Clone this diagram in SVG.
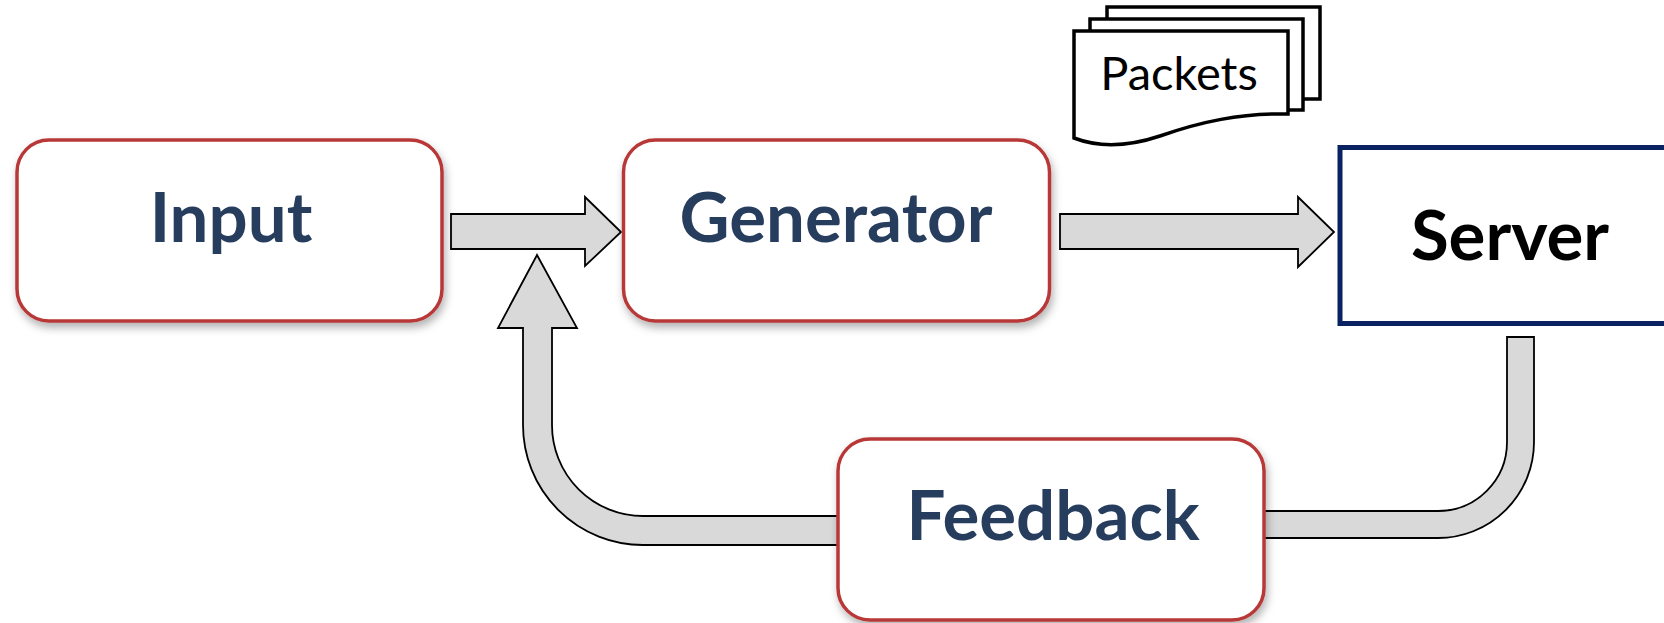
<svg xmlns="http://www.w3.org/2000/svg" width="1664" height="623" viewBox="0 0 1664 623">
  <defs>
    <filter id="shadow" x="-10%" y="-10%" width="125%" height="135%">
      <feDropShadow dx="2" dy="5" stdDeviation="4" flood-color="#000" flood-opacity="0.3"/>
    </filter>
    <style>
      .box { fill: #ffffff; stroke: #b83838; stroke-width: 3.5; filter: url(#shadow); }
      .label { font-family: Lato, "Liberation Sans", sans-serif; font-weight: 700; font-size: 69px; fill: #263d5e; text-anchor: middle; }
      .flow { fill: #d9d9d9; stroke: #000000; stroke-width: 1.8; stroke-linejoin: miter; }
      .doc { fill: #ffffff; stroke: #000000; stroke-width: 3.5; stroke-linejoin: miter; }
    </style>
  </defs>
  <rect width="1664" height="623" fill="#ffffff"/>

  <g id="connectors">
    <polygon class="flow" points="451,214 585,214 585,197 621,232 585,266 585,249 451,249"/>
    <polygon class="flow" points="1060,214 1298,214 1298,197 1334,232 1298,267 1298,249 1060,249"/>
    <path class="flow" d="M537,255 L577,328 L552,328 L552,425 A91,91 0 0 0 643,516 L850,516 L850,545 L643,545 A120,120 0 0 1 523,425 L523,328 L498,328 Z"/>
    <path class="flow" d="M1507,337 L1534,337 L1534,442 A96,96 0 0 1 1438,538 L1250,538 L1250,511 L1438,511 A69,69 0 0 0 1507,442 Z"/>
  </g>

  <g id="input">
    <rect class="box" x="17" y="140" width="425" height="181" rx="32" ry="32"/>
    <text class="label" x="231" y="242">Input</text>
  </g>

  <g id="generator">
    <rect class="box" x="623.5" y="140" width="426" height="181" rx="32" ry="32"/>
    <text class="label" x="836" y="242">Generator</text>
  </g>

  <g id="server">
    <rect x="1340" y="147.5" width="360" height="176" fill="#ffffff" stroke="#0a2262" stroke-width="5"/>
    <text x="1510" y="260" font-family="Lato, 'Liberation Sans', sans-serif" font-weight="700" font-size="69" fill="#000000" text-anchor="middle">Server</text>
  </g>

  <g id="feedback">
    <rect class="box" x="838" y="439" width="426" height="181" rx="32" ry="32"/>
    <text class="label" x="1053" y="540">Feedback</text>
  </g>

  <g id="packets">
    <path class="doc" d="M1107,7 L1320,7 L1320,99 L1107,99 Z"/>
    <path class="doc" d="M1090,19 L1303,19 L1303,110 L1090,110 Z"/>
    <path class="doc" d="M1074,31 L1288,31 L1288,114 C1240,113 1200,122 1160,136 C1130,146 1100,148 1074,138 Z"/>
    <text x="1179" y="90" font-family="Lato, 'Liberation Sans', sans-serif" font-size="47" fill="#000000" text-anchor="middle">Packets</text>
  </g>
</svg>
